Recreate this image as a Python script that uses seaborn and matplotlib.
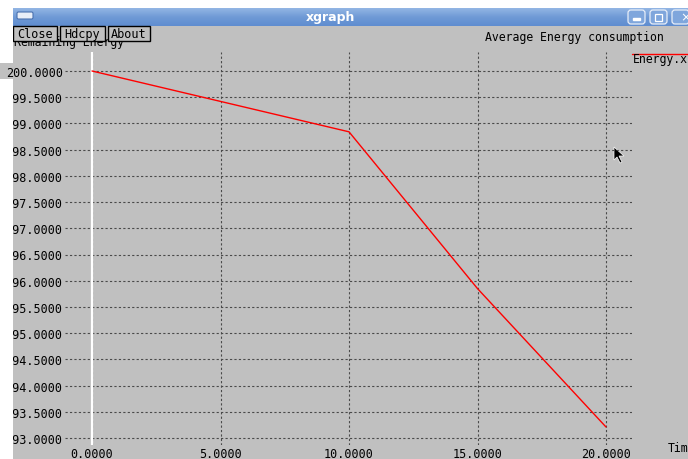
import matplotlib
matplotlib.use("Agg")
import matplotlib.pyplot as plt
import numpy as np
import pandas as pd
import seaborn as sns
from matplotlib.patches import Rectangle, FancyBboxPatch, Polygon
from matplotlib.colors import LinearSegmentedColormap

# ---- data ----
time_s = [0, 5, 10, 15, 20]
energy = [200.0, 199.42, 198.84, 195.85, 193.21]
x_ticks = [0, 5, 10, 15, 20]
x_tick_labels = ["0.0000", "5.0000", "10.0000", "15.0000", "20.0000"]
y_ticks = [193.0, 193.5, 194.0, 194.5, 195.0, 195.5, 196.0, 196.5,
           197.0, 197.5, 198.0, 198.5, 199.0, 199.5, 200.0]
y_tick_labels = ["%.4f" % v for v in y_ticks]
title_text = "Average Energy consumption"
y_title = "Remaining Energy"
x_title = "Time"
legend_label = "Energy.x"
window_title = "xgraph"
buttons = ["Close", "Hdcpy", "About"]

sns.set_theme(style="white")
plt.rcParams['font.family'] = ['DejaVu Sans Mono', 'DejaVu Sans']

W, H = 688, 460
fig = plt.figure(figsize=(W / 100, H / 100), dpi=100)
GREY = "#c0c0c0"
fig.patch.set_facecolor(GREY)

# background / window decoration axes in pixel coordinates
bg = fig.add_axes([0, 0, 1, 1])
bg.set_xlim(0, W)
bg.set_ylim(H, 0)
bg.axis("off")
bg.set_facecolor(GREY)
bg.add_patch(Rectangle((0, 0), W, H, color=GREY, zorder=0))
bg.add_patch(Rectangle((0, 0), W, 9, color="white", zorder=1))
# title bar gradient
grad = np.linspace(0, 1, 50).reshape(-1, 1)
cmap = LinearSegmentedColormap.from_list("tb", ["#93b6e4", "#6f9ad6", "#5f8dd0"])
bg.imshow(grad, cmap=cmap, extent=(13, W, 27, 9), aspect="auto", zorder=2)
bg.set_xlim(0, W)
bg.set_ylim(H, 0)
bg.text(330, 18, window_title, color="white", fontsize=9, fontweight="bold",
        ha="center", va="center", family="DejaVu Sans", zorder=3)
bg.add_patch(FancyBboxPatch((17, 13), 16, 7, boxstyle="round,pad=0,rounding_size=1.5",
                            fc="#e8eef8", ec="#4a72b0", lw=0.8, zorder=3))
for x0 in (628, 650, 672):
    bg.add_patch(FancyBboxPatch((x0, 11), 17, 14, boxstyle="round,pad=0,rounding_size=3",
                                fc="#7fa6dc", ec="#e8eef8", lw=0.9, zorder=3))
bg.add_patch(Rectangle((633, 19), 7, 1.5, color="white", zorder=4))
bg.add_patch(Rectangle((655, 14.5), 7, 7, fc="none", ec="white", lw=0.9, zorder=4))
bg.text(680, 18, "×", color="white", fontsize=9, ha="left", va="center", zorder=4,
        family="DejaVu Sans")

# y axis title (partly hidden by buttons)
bg.text(14, 42.5, y_title, fontsize=8.3, ha="left", va="center", color="black", zorder=3)
# buttons
bx = [13, 60, 108]
bw = [44, 45, 42]
for x0, w, lab in zip(bx, bw, buttons):
    bg.add_patch(Rectangle((x0, 27), w, 14.5, fc=GREY, ec="black", lw=1, zorder=5))
    bg.text(x0 + w / 2, 34.5, lab, fontsize=8.6, ha="center", va="center",
            color="black", zorder=6)
bg.text(664, 37, title_text, fontsize=8.3, ha="right", va="center", color="black", zorder=3)
# legend
bg.plot([632, 688], [55, 55], color="red", lw=1, zorder=3)
bg.text(633, 59.5, legend_label, fontsize=8.3, ha="left", va="center", color="black", zorder=3)
# x axis title (clipped at right edge)
bg.text(668, 449, x_title, fontsize=8.3, ha="left", va="center", color="black", zorder=3)
# mouse cursor
bg.add_patch(Polygon([(614, 148), (614, 161), (617, 158), (620, 164), (622, 163),
                      (619, 157), (624, 157)], closed=True, fc="black", ec="white",
                     lw=0.5, zorder=7))

# ---- data axes ----
px_l, px_r, px_t, px_b = 65, 632, 53, 446
x0p, x20p = 92, 606
y200p, y193p = 72, 439
sx = (x20p - x0p) / 20.0
sy = (y193p - y200p) / 7.0
xlim = ((px_l - x0p) / sx, (px_r - x0p) / sx)
ylim = (200 - (px_b - y200p) / sy, 200 + (y200p - px_t) / sy)

ax = fig.add_axes([px_l / W, 1 - px_b / H, (px_r - px_l) / W, (px_b - px_t) / H])
ax.set_facecolor("none")
ax.set_xlim(*xlim)
ax.set_ylim(*ylim)
for s in ax.spines.values():
    s.set_visible(False)
ax.set_xticks(x_ticks)
ax.set_xticklabels(x_tick_labels)
ax.set_yticks(y_ticks)
ax.set_yticklabels(y_tick_labels)
ax.tick_params(length=0, labelsize=8.5, colors="black", pad=1.5)
for t in ax.get_xticklabels() + ax.get_yticklabels():
    t.set_family("DejaVu Sans Mono")
ax.grid(True, color="#4a4a4a", linestyle=(0, (2, 2)), linewidth=0.8)
ax.axvline(0, color="white", lw=1.6, zorder=3)

df = pd.DataFrame({"time": time_s, "energy": energy})
sns.lineplot(data=df, x="time", y="energy", ax=ax, color="red", linewidth=1,
             zorder=4, legend=False)
ax.set_xlabel("")
ax.set_ylabel("")

# white desktop strip left of the window's edge (clips the leading digits)
for (y0, y1) in ((9, 64), (80, 460)):
    fig.add_artist(Rectangle((0, 1 - y1 / H), 13 / W, (y1 - y0) / H,
                             transform=fig.transFigure, fc="white", ec="none", zorder=10))

fig.savefig("out.png", dpi=100, facecolor=fig.get_facecolor())
